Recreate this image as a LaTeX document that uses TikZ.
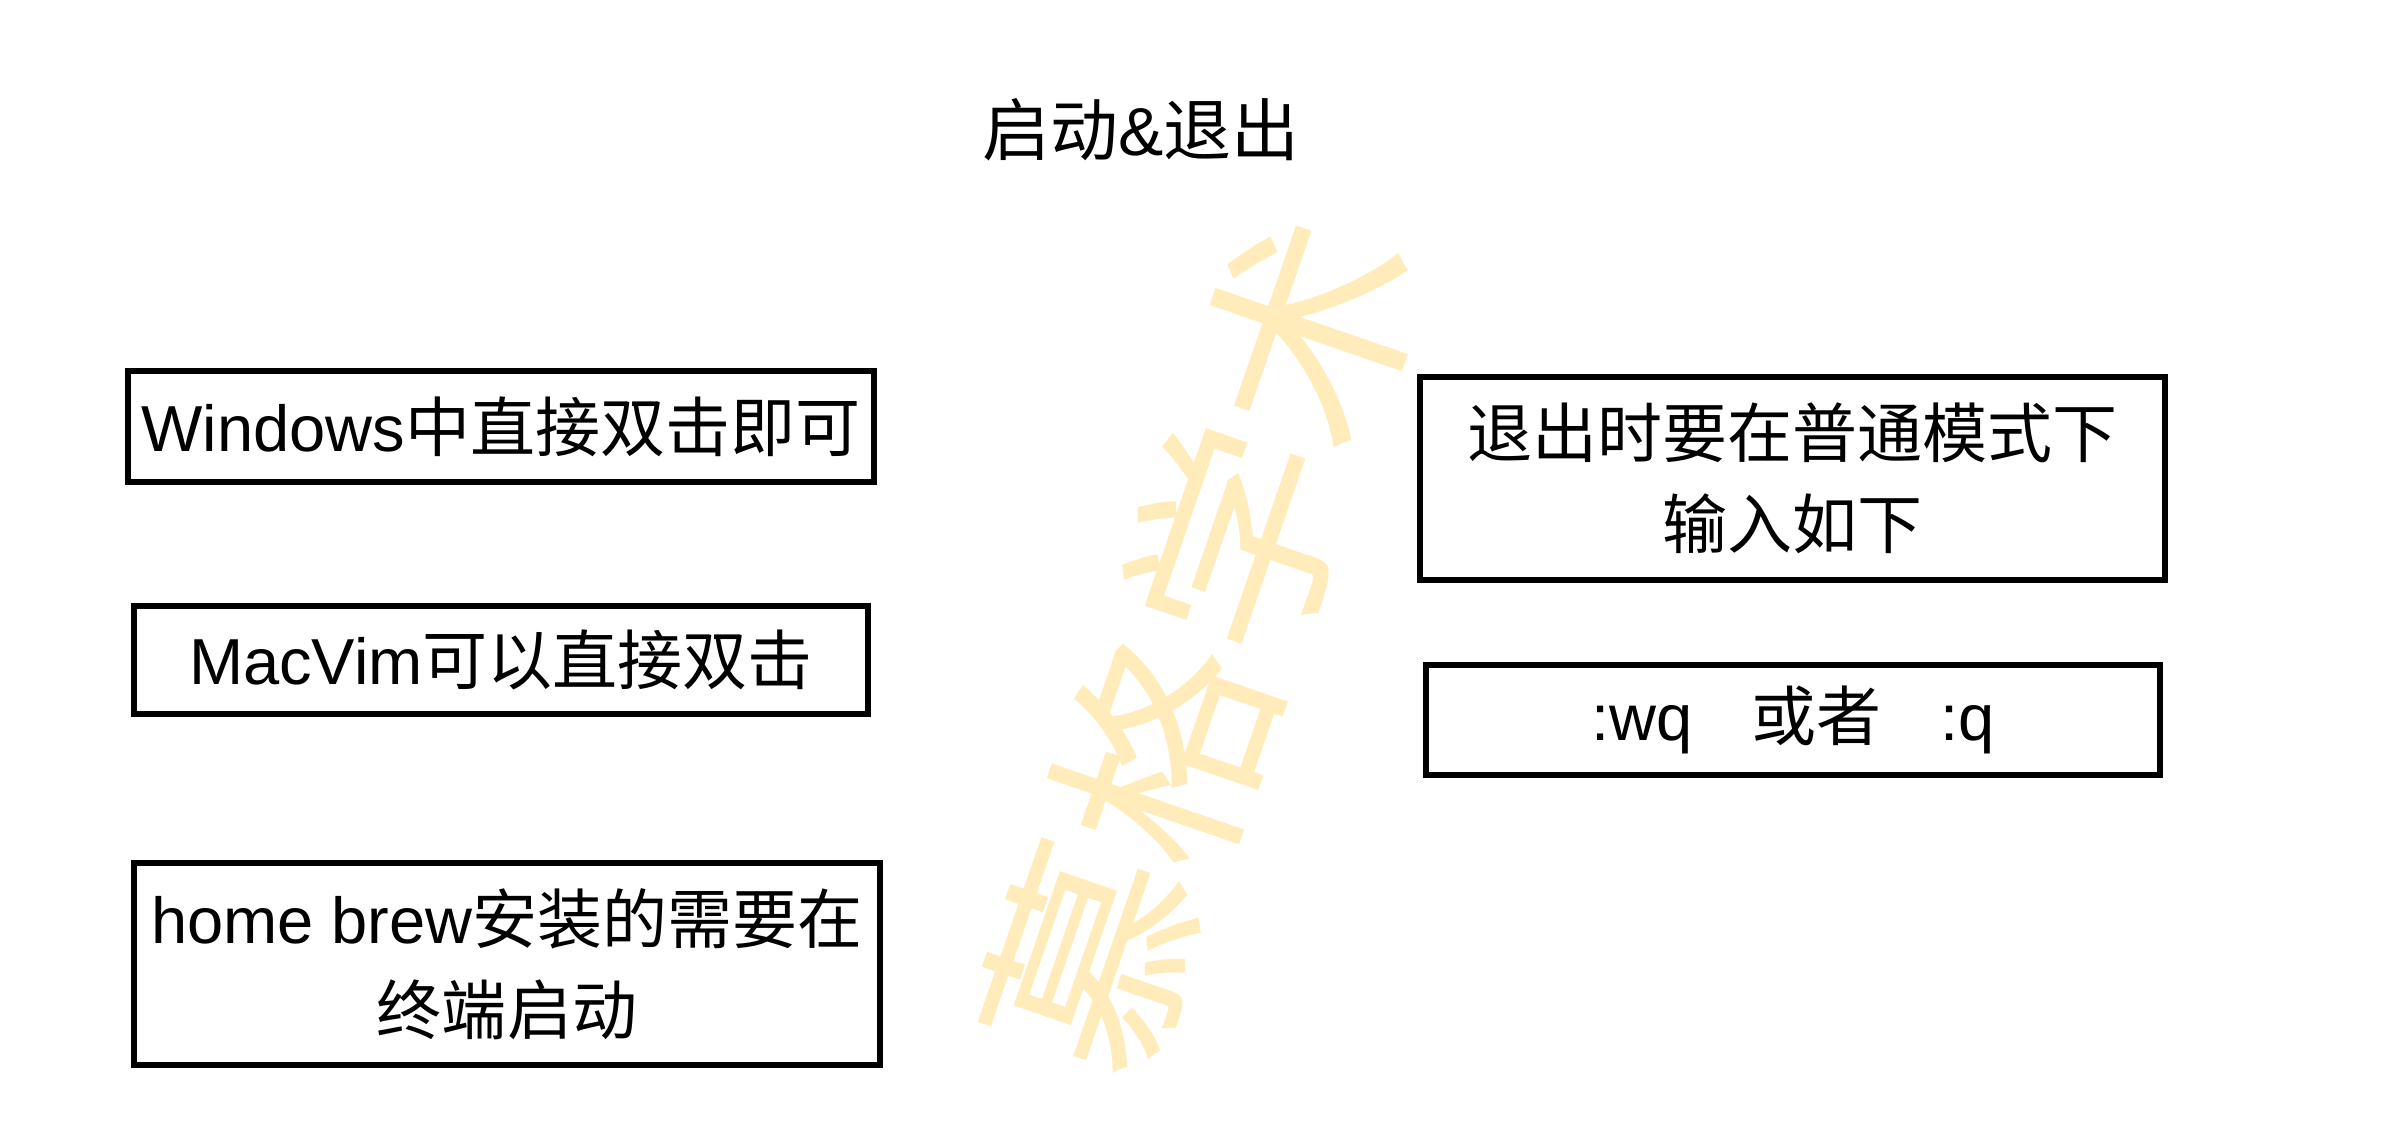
\documentclass[tikz,border=0pt]{standalone}
\usepackage{fontspec}
\setmainfont{Liberation Sans}
\newfontfamily\cjk{Noto Sans CJK SC}
\newcommand{\zh}[1]{{\cjk #1}}
\usetikzlibrary{positioning}
\definecolor{wmyellow}{RGB}{255,236,186}

\begin{document}
\begin{tikzpicture}[
  every node/.style={font=\fontsize{18.5}{26}\selectfont},
  textbox/.style={draw,line width=1.6pt,inner sep=0pt,align=center,minimum width=7.4cm},
  onerow/.style={textbox,minimum height=1.1cm},
  tworow/.style={textbox,minimum height=2.02cm},
  watermark/.style={text=wmyellow,rotate=71,inner sep=0pt,font=\cjk\fontsize{63}{63}\selectfont}
]
\useasboundingbox (0,0) rectangle (23.92,-11.34);
% watermark behind everything
\node[watermark] (mark) at (12.0,-6.44) {慕格学术};
% title
\node[font=\fontsize{19.3}{26}\selectfont] (title) at (11.41,-1.30) {\zh{启动}\&\zh{退出}};
% start
\node[onerow,minimum width=7.46cm,minimum height=1.11cm] (win) at (5.01,-4.265) {Windows\zh{中直接双击即可}};
\node[onerow,minimum width=7.34cm,minimum height=1.08cm] (mac) at (5.01,-6.60) {MacVim\zh{可以直接双击}};
\node[tworow,minimum width=7.46cm] (brew) at (5.07,-9.64) {home brew\zh{安装的需要在}\\\zh{终端启动}};
% quit
\node[tworow,minimum width=7.45cm,minimum height=2.03cm] (quit) at (17.925,-4.785) {\zh{退出时要在普通模式下}\\\zh{输入如下}};
\node[onerow,minimum width=7.34cm] (cmd) at (17.93,-7.20) {:wq\hspace{0.9em}\zh{或者}\hspace{0.9em}:q};
\end{tikzpicture}
\end{document}
